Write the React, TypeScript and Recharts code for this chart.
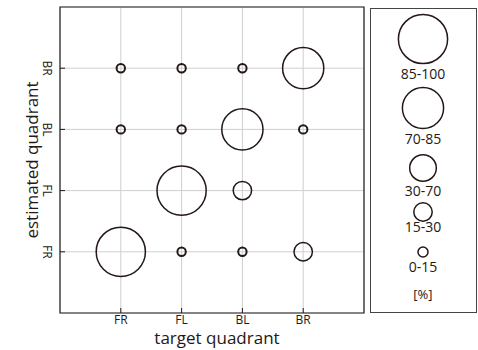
import { ScatterChart, Scatter, XAxis, YAxis, CartesianGrid, ReferenceArea, Label } from "recharts";

const QUADRANTS = ["FR", "FL", "BL", "BR"];
// share of estimates (%) for each target quadrant, ordered by estimated quadrant FR, FL, BL, BR
const TARGET_FR = [90, 0, 5, 5];
const TARGET_FL = [3, 91, 3, 3];
const TARGET_BL = [2, 18, 76, 4];
const TARGET_BR = [20, 0, 3, 77];
const BIN_EDGES = [0, 15, 30, 70, 85, 100];
const BIN_LABELS = ["0-15", "15-30", "30-70", "70-85", "85-100"];

const BIN_RADII = [4.2, 9.2, 13.3, 20.6, 24.6];
const LEGEND_CY = [252, 212, 168, 108, 39];
const LEGEND_LABEL_Y = [272, 232, 196, 144, 79];
const INK = "#231815";
const FONT = '"Open Sans", sans-serif';

const rows = [TARGET_FR, TARGET_FL, TARGET_BL, TARGET_BR];
const points = rows.flatMap((row, t) =>
  row.map((pct, e) => ({ x: t + 1, y: e + 1, pct })).filter((p) => p.pct > 0)
);

function binOf(pct: number) {
  let i = BIN_EDGES.length - 2;
  while (i > 0 && pct < BIN_EDGES[i]) i--;
  return i;
}

const Bubble = (props: any) => {
  const { cx, cy, payload } = props;
  const b = binOf(payload.pct);
  return <circle cx={cx} cy={cy} r={BIN_RADII[b]} fill="none" stroke={INK} strokeWidth={b === 0 ? 2 : 1.5} />;
};

const YTick = ({ x, y, payload }: any) => (
  <text x={x} y={y} transform={`rotate(90, ${x}, ${y})`} textAnchor="middle" fontSize={12} fill={INK} fontFamily={FONT}>
    {QUADRANTS[payload.value - 1]}
  </text>
);

const ticks = [1, 2, 3, 4];

export default function App() {
  return (
    <div style={{ position: "absolute", left: 0, top: 0, width: 478, height: 350, background: "#fff" }}>
      <ScatterChart width={478} height={350} margin={{ top: 7, right: 114, bottom: 0, left: 0 }}>
        <CartesianGrid stroke="#cfcfcf" />
        <XAxis
          dataKey="x"
          type="number"
          domain={[0, 5]}
          ticks={ticks}
          height={37}
          axisLine={false}
          tickSize={-5}
          tickMargin={7}
          tickLine={{ stroke: INK }}
          tickFormatter={(v) => QUADRANTS[v - 1]}
          tick={{ fontSize: 12, fill: INK, fontFamily: FONT }}
        >
          <Label value="target quadrant" position="insideBottom" offset={6} dx={5} style={{ fontSize: 17, fill: INK, fontFamily: FONT }} />
        </XAxis>
        <XAxis xAxisId="top" orientation="top" type="number" domain={[0, 5]} ticks={ticks} height={0} axisLine={false} tick={false} tickSize={-5} tickLine={{ stroke: INK }} />
        <YAxis
          dataKey="y"
          type="number"
          domain={[0, 5]}
          ticks={ticks}
          width={60}
          axisLine={false}
          tickSize={-5}
          tickMargin={22}
          tickLine={{ stroke: INK }}
          tick={<YTick />}
        >
          <Label value="estimated quadrant" angle={-90} position="center" dx={2} style={{ fontSize: 17, fill: INK, fontFamily: FONT, textAnchor: "middle" }} />
        </YAxis>
        <YAxis yAxisId="right" orientation="right" type="number" domain={[0, 5]} ticks={ticks} width={0} axisLine={false} tick={false} tickSize={-5} tickLine={{ stroke: INK }} />
        <ReferenceArea x1={0} x2={5} y1={0} y2={5} fill="none" fillOpacity={0} stroke="#222" strokeWidth={1.2} />
        <Scatter data={points} shape={<Bubble />} isAnimationActive={false} />
      </ScatterChart>
      <svg width={478} height={350} style={{ position: "absolute", left: 0, top: 0, pointerEvents: "none" }}>
        <rect x={370.5} y={8.5} width={106} height={304} fill="none" stroke="#444" />
        {BIN_LABELS.map((label, i) => (
          <g key={label}>
            <circle cx={423} cy={LEGEND_CY[i]} r={i === 0 ? 5 : BIN_RADII[i]} fill="none" stroke={INK} strokeWidth={1.5} />
            <text x={423} y={LEGEND_LABEL_Y[i]} textAnchor="middle" fontSize={14} fill={INK} fontFamily={FONT}>
              {label}
            </text>
          </g>
        ))}
        <text x={423} y={299} textAnchor="middle" fontSize={13} fill={INK} fontFamily={FONT}>
          [%]
        </text>
      </svg>
    </div>
  );
}
